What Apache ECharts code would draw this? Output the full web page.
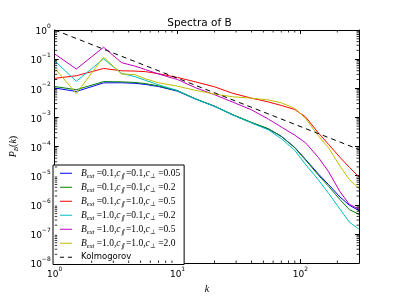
<!DOCTYPE html>
<html><head><meta charset="utf-8">
<script src="https://cdn.jsdelivr.net/npm/echarts@6/dist/echarts.min.js"></script>
<style>html,body{margin:0;padding:0;background:#fff}#c{width:399px;height:299px}</style>
</head><body><div id="c"></div>
<script>
// wavenumbers sampled along the curves
const K = [1, 1.5, 2.5, 3.5, 4.5, 5.5, 7, 10, 14, 20, 28, 40, 55, 70, 90, 110, 140, 170, 210, 250, 300];
// log10 of P_B(k)
const logBlue    = [-1.99, -2.11, -1.815, -1.81, -1.83, -1.87, -1.94, -2.10, -2.37, -2.62, -2.91, -3.18, -3.40, -3.65, -4.03, -4.44, -4.94, -5.31, -5.73, -6.01, -6.20];
const logGreen   = [-1.94, -2.05, -1.77, -1.78, -1.80, -1.84, -1.92, -2.08, -2.36, -2.61, -2.90, -3.17, -3.39, -3.65, -4.04, -4.46, -4.98, -5.37, -5.82, -6.16, -6.33];
const logRed     = [-1.66, -1.57, -1.32, -1.40, -1.41, -1.43, -1.50, -1.63, -1.78, -1.95, -2.17, -2.34, -2.47, -2.59, -2.73, -2.98, -3.53, -3.93, -4.37, -4.71, -5.04];
const logCyan    = [-1.06, -1.76, -0.99, -1.49, -1.60, -1.73, -1.88, -2.08, -2.37, -2.62, -2.91, -3.19, -3.43, -3.73, -4.13, -4.61, -5.14, -5.61, -6.15, -6.59, -6.84];
const logMagenta = [-0.82, -1.34, -0.59, -1.12, -1.24, -1.36, -1.51, -1.70, -1.98, -2.22, -2.47, -2.74, -3.06, -3.33, -3.61, -3.87, -4.37, -4.87, -5.55, -5.98, -6.15];
const logYellow  = [-1.31, -2.18, -0.93, -1.51, -1.53, -1.68, -1.81, -1.93, -2.07, -2.20, -2.29, -2.34, -2.40, -2.50, -2.69, -3.03, -3.63, -4.05, -4.67, -5.13, -5.44];
// Kolmogorov reference line end points
const kolK = [1, 300];
const kolP = [1, 7.9e-5];
// legend parameters
const bextVals  = ['0.1', '0.1', '0.1', '1.0', '1.0', '1.0'];
const cparVals  = ['0.1', '0.1', '1.0', '0.1', '1.0', '1.0'];
const cperpVals = ['0.05', '0.2', '0.5', '0.2', '0.5', '2.0'];
const kolName = 'Kolmogorov';
const titleText = 'Spectra of B';
// axis ranges
const xMin = 1, xMax = 300, yMin = 1e-8, yMax = 1;
const xMinorTicks = [2,3,4,5,6,7,8,9,20,30,40,50,60,70,80,90,200];
const yMinorMant = [2,3,4,5,6,7,8,9];
const yDecades = [-8,-7,-6,-5,-4,-3,-2,-1];

const colors = ['#0000ff', '#008000', '#ff0000', '#00bfbf', '#bf00bf', '#bfbf00'];
const logs = [logBlue, logGreen, logRed, logCyan, logMagenta, logYellow];
const names = bextVals.map((b, i) => 'Bext=' + b + ',cpar=' + cparVals[i] + ',cperp=' + cperpVals[i]);

function legendFmt(name) {
  const i = names.indexOf(name);
  if (i < 0) return '{k|' + name + '}';
  return '{i|B}{sub|ext}{n| =' + bextVals[i] + ',}{i|c}{sub|\u2225}{n| =' + cparVals[i] + ',}{i|c}{sub|\u22a5}{n| =' + cperpVals[i] + '}';
}
function tickFmt(v) {
  const l = Math.log10(v);
  const e = Math.round(l);
  if (Math.abs(l - e) > 1e-6) return '';
  return '{b|10}{s|' + (e < 0 ? '\u2212' + (-e) : e) + '}';
}
const tickRich = {
  b: {fontFamily: 'DejaVu Sans', fontSize: 9, color: '#000', lineHeight: 13, verticalAlign: 'bottom'},
  s: {fontFamily: 'DejaVu Sans', fontSize: 6, color: '#000', lineHeight: 13, verticalAlign: 'top'}
};

const series = logs.map((arr, i) => ({
  name: names[i], type: 'line', symbol: 'none', showSymbol: false,
  data: K.map((k, j) => [k, Math.pow(10, arr[j])]),
  lineStyle: {color: colors[i], width: 1}, itemStyle: {color: colors[i]},
  z: 3, silent: true
}));
series.push({
  name: kolName, type: 'line', symbol: 'none', showSymbol: false,
  data: kolK.map((k, j) => [k, kolP[j]]),
  lineStyle: {color: '#000', width: 1, type: [5, 4]}, itemStyle: {color: '#000'},
  z: 4, silent: true
});
function tickSeries(data, size, offset) {
  return {type: 'scatter', symbol: 'rect', symbolSize: size, symbolOffset: offset,
    data: data, clip: false, silent: true, itemStyle: {color: '#000'}, z: 6};
}
const yMinorVals = [];
yDecades.forEach(d => yMinorMant.forEach(m => yMinorVals.push(m * Math.pow(10, d))));
series.push(tickSeries(xMinorTicks.map(k => [k, yMin]), [1, 2.5], [0, -1.25]));
series.push(tickSeries(xMinorTicks.map(k => [k, yMax]), [1, 2.5], [0, 1.25]));
series.push(tickSeries(yMinorVals.map(v => [xMin, v]), [2.5, 1], [1.25, 0]));
series.push(tickSeries(yMinorVals.map(v => [xMax, v]), [2.5, 1], [-1.25, 0]));

const solidIcon = 'path://M0,0H12V1H0Z';
const dashIcon = 'path://M0,0H4V1H0ZM8,0H12V1H8Z';
const legendData = names.map(n => ({name: n, icon: solidIcon})).concat([{name: kolName, icon: dashIcon}]);

const axisLineStyle = {show: true, lineStyle: {color: '#000', width: 1}};
const chart = echarts.init(document.getElementById('c'), null, {renderer: 'canvas'});
chart.setOption({
  animation: false,
  backgroundColor: '#fff',
  title: {text: titleText, left: 'center', top: 18, padding: 0,
    textStyle: {fontFamily: 'DejaVu Sans', fontSize: 10.5, fontWeight: 'normal', color: '#000'}},
  grid: {left: 50, right: 40, top: 30, bottom: 31, containLabel: false},
  legend: {
    data: legendData, orient: 'vertical', left: 53, top: 165,
    itemWidth: 12, itemHeight: 1, itemGap: 1.5,
    padding: [2, 4, 1, 7], borderColor: '#000', borderWidth: 1, backgroundColor: '#fff',
    formatter: legendFmt, selectedMode: false,
    textStyle: {padding: [0, 0, 0, 4], lineHeight: 12.5, rich: {
      i: {fontFamily: 'Liberation Serif', fontStyle: 'italic', fontSize: 9.5, color: '#000', lineHeight: 12.5},
      sub: {fontFamily: 'Liberation Serif', fontStyle: 'italic', fontSize: 6.5, color: '#000', lineHeight: 12.5, verticalAlign: 'bottom'},
      n: {fontFamily: 'Liberation Serif', fontSize: 9.5, color: '#000', lineHeight: 12.5},
      k: {fontFamily: 'DejaVu Sans', fontSize: 8.5, color: '#000', lineHeight: 12.5}
    }}
  },
  xAxis: [{
    type: 'log', logBase: 10, min: xMin, max: xMax, position: 'bottom',
    axisLine: axisLineStyle, splitLine: {show: false},
    axisTick: {show: true, inside: true, length: 4, lineStyle: {color: '#000'}},
    axisLabel: {formatter: tickFmt, rich: tickRich, margin: 3, showMaxLabel: false},
    name: '{i|k}', nameLocation: 'middle', nameGap: 14,
    nameTextStyle: {rich: {i: {fontFamily: 'Liberation Serif', fontStyle: 'italic', fontSize: 10, color: '#000'}}}
  }, {
    type: 'log', logBase: 10, min: xMin, max: xMax, position: 'top',
    axisLine: axisLineStyle, splitLine: {show: false},
    axisTick: {show: true, inside: true, length: 4, lineStyle: {color: '#000'}},
    axisLabel: {show: false}
  }],
  yAxis: [{
    type: 'log', logBase: 10, min: yMin, max: yMax, position: 'left',
    axisLine: axisLineStyle, splitLine: {show: false},
    axisTick: {show: true, inside: true, length: 4, lineStyle: {color: '#000'}},
    axisLabel: {formatter: tickFmt, rich: tickRich, margin: 4},
    name: '{i|P}{sub|B}{n|(}{i|k}{n|)}', nameLocation: 'middle', nameGap: 18, nameRotate: 90,
    nameTextStyle: {rich: {
      i: {fontFamily: 'Liberation Serif', fontStyle: 'italic', fontSize: 10, color: '#000', lineHeight: 13},
      sub: {fontFamily: 'Liberation Serif', fontStyle: 'italic', fontSize: 7, color: '#000', lineHeight: 13, verticalAlign: 'bottom'},
      n: {fontFamily: 'Liberation Serif', fontSize: 10, color: '#000', lineHeight: 13}
    }}
  }, {
    type: 'log', logBase: 10, min: yMin, max: yMax, position: 'right',
    axisLine: axisLineStyle, splitLine: {show: false},
    axisTick: {show: true, inside: true, length: 4, lineStyle: {color: '#000'}},
    axisLabel: {show: false}
  }],
  series: series
});
</script></body></html>
